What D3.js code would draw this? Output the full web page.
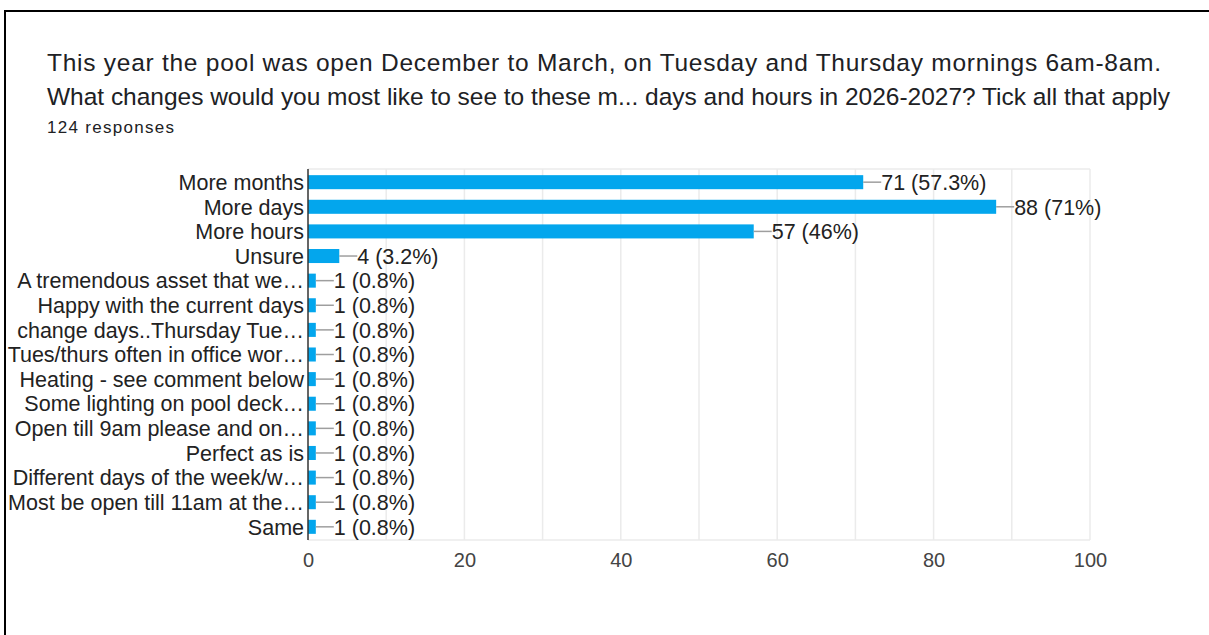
<!DOCTYPE html>
<html>
<head>
<meta charset="utf-8">
<script src="https://cdn.jsdelivr.net/npm/d3@7"></script>
<style>
  body { margin: 0; background: #fff; }
  svg { display: block; }
</style>
</head>
<body>
<svg id="chart" width="1209" height="635"></svg>
<script>
// survey answers, top to bottom
var labels = ["More months", "More days", "More hours", "Unsure",
  "A tremendous asset that we\u2026", "Happy with the current days",
  "change days..Thursday Tue\u2026", "Tues/thurs often in office wor\u2026",
  "Heating - see comment below", "Some lighting on pool deck\u2026",
  "Open till 9am please and on\u2026", "Perfect as is",
  "Different days of the week/w\u2026", "Most be open till 11am at the\u2026", "Same"];
var counts = [71, 88, 57, 4, 1, 1, 1, 1, 1, 1, 1, 1, 1, 1, 1];
var percents = ["57.3%", "71%", "46%", "3.2%", "0.8%", "0.8%", "0.8%", "0.8%",
  "0.8%", "0.8%", "0.8%", "0.8%", "0.8%", "0.8%", "0.8%"];
var tickVals = [0, 20, 40, 60, 80, 100];
var gridVals = [10, 20, 30, 40, 50, 60, 70, 80, 90, 100];
var titleLines = ["This year the pool was open December to March, on Tuesday and Thursday mornings 6am-8am.",
  "What changes would you most like to see to these m... days and hours in 2026-2027? Tick all that apply"];
var responses = "124 responses";

var svg = d3.select("#chart");

// frame (runs off the right and bottom of the shot)
svg.append("rect").attr("x", 5).attr("y", 11).attr("width", 1300).attr("height", 700)
  .style("fill", "none").style("stroke", "#000").style("stroke-width", 2);

// heading, stretched to the widths in the screenshot
svg.append("text").attr("x", 47).attr("y", 71).text(titleLines[0])
  .attr("textLength", 1114).attr("lengthAdjust", "spacing")
  .style("font-family", "Liberation Sans").style("font-size", "24.5px").style("fill", "#202124");
svg.append("text").attr("x", 47).attr("y", 105).text(titleLines[1])
  .attr("textLength", 1123).attr("lengthAdjust", "spacing")
  .style("font-family", "Liberation Sans").style("font-size", "24.5px").style("fill", "#202124");
svg.append("text").attr("x", 47).attr("y", 133).text(responses)
  .attr("textLength", 127).attr("lengthAdjust", "spacing")
  .style("font-family", "Liberation Sans").style("font-size", "17px").style("fill", "#202124");

var x = d3.scaleLinear().domain([0, 100]).range([308, 1090]);
var y = d3.scaleBand().domain(labels).range([169, 540]).paddingInner(0.43).paddingOuter(0.25);

// grid
svg.append("g").selectAll("line").data(gridVals).enter().append("line")
  .attr("x1", d => x(d)).attr("x2", d => x(d)).attr("y1", 169).attr("y2", 540)
  .style("stroke", "#ebebeb").style("stroke-width", 1.5);
svg.append("line").attr("x1", x(0)).attr("x2", x(100)).attr("y1", 169).attr("y2", 169)
  .style("stroke", "#ebebeb").style("stroke-width", 1.5);
svg.append("line").attr("x1", x(0)).attr("x2", x(100)).attr("y1", 540).attr("y2", 540)
  .style("stroke", "#ebebeb").style("stroke-width", 1.5);

// bars
svg.append("g").selectAll("rect").data(labels).enter().append("rect")
  .attr("x", x(0)).attr("y", d => y(d))
  .attr("width", (d, i) => x(counts[i]) - x(0)).attr("height", y.bandwidth())
  .style("fill", "#03a6ed");

// leader lines + value labels
svg.append("g").selectAll("line").data(labels).enter().append("line")
  .attr("x1", (d, i) => x(counts[i])).attr("x2", (d, i) => x(counts[i]) + 18)
  .attr("y1", d => y(d) + y.bandwidth() / 2).attr("y2", d => y(d) + y.bandwidth() / 2)
  .style("stroke", "#9e9e9e").style("stroke-width", 1.5);
svg.append("g").selectAll("text").data(labels).enter().append("text")
  .attr("x", (d, i) => x(counts[i]) + 18).attr("y", d => y(d) + y.bandwidth() / 2)
  .attr("dy", "0.36em")
  .text((d, i) => counts[i] + " (" + percents[i] + ")")
  .style("font-family", "Liberation Sans").style("font-size", "21.5px").style("fill", "#222");

// category labels
svg.append("g").selectAll("text").data(labels).enter().append("text")
  .attr("x", x(0) - 4).attr("y", d => y(d) + y.bandwidth() / 2)
  .attr("dy", "0.36em").attr("text-anchor", "end").text(d => d)
  .style("font-family", "Liberation Sans").style("font-size", "21.5px").style("fill", "#222");

// baseline
svg.append("line").attr("x1", x(0)).attr("x2", x(0)).attr("y1", 169).attr("y2", 540)
  .style("stroke", "#333").style("stroke-width", 1.5);

// x axis
var xAxis = svg.append("g").attr("transform", "translate(0,553)")
  .call(d3.axisBottom(x).tickValues(tickVals).tickSize(0).tickPadding(0));
xAxis.select(".domain").remove();
xAxis.selectAll("text").style("font-family", "Liberation Sans").style("font-size", "20px")
  .style("fill", "#444");
</script>
</body>
</html>
